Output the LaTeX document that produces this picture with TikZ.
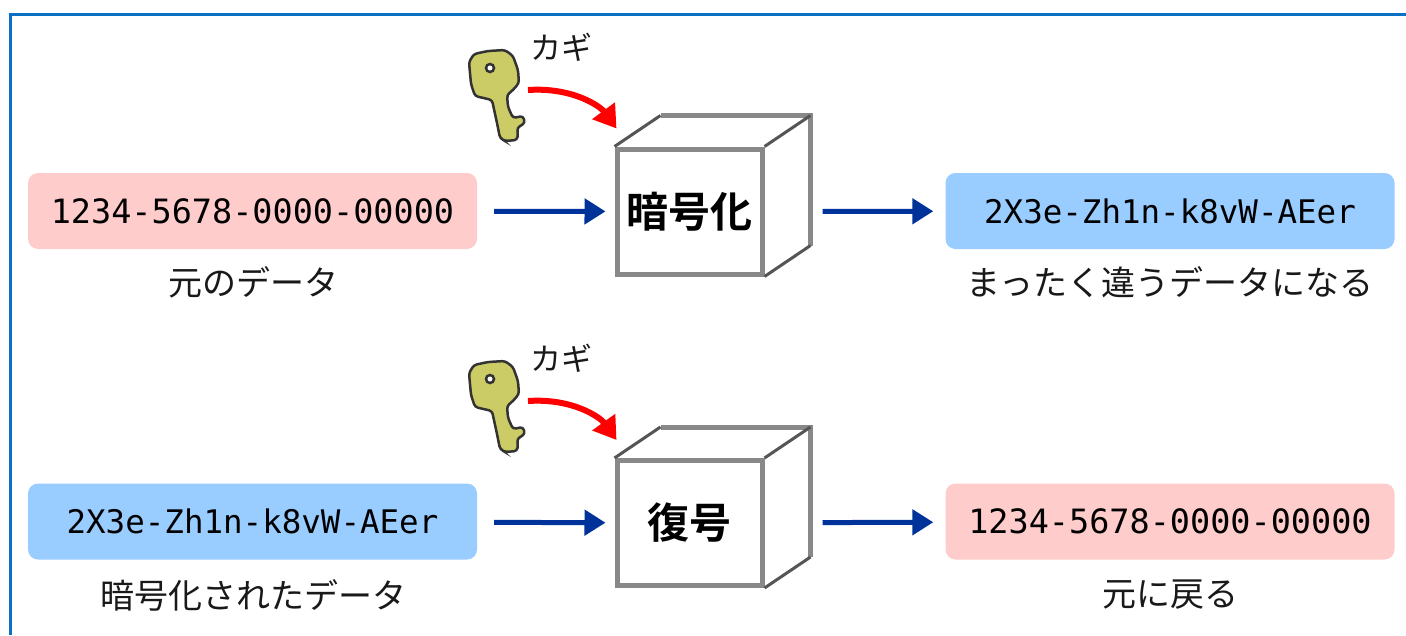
\documentclass[tikz,border=0pt]{standalone}
\usepackage{fontspec}
\setmainfont{Noto Sans CJK JP}
\newfontfamily\jpfont{Noto Sans CJK JP}
\newfontfamily\jpbold{Noto Sans CJK JP Bold}
\newfontfamily\monofont{DejaVu Sans Mono}
\usetikzlibrary{arrows.meta}
\definecolor{pinkc}{HTML}{FFCCCC}
\definecolor{bluec}{HTML}{99CCFF}
\definecolor{bordc}{HTML}{0A70C4}
\definecolor{flowc}{HTML}{003399}
\definecolor{cubec}{HTML}{888888}
\definecolor{cubed}{HTML}{555555}
\definecolor{keyc}{HTML}{CCCC66}
\definecolor{keyo}{HTML}{333333}
\tikzset{
  databox/.style={rounded corners=10pt, minimum width=449pt, minimum height=76pt, inner sep=0pt, text=black},
  pinkbox/.style={databox, fill=pinkc, font=\monofont\fontsize{33.5}{40}\selectfont},
  bluebox/.style={databox, fill=bluec, font=\monofont\fontsize{32.5}{40}\selectfont},
  lbl/.style={font=\jpfont\fontsize{34}{40}\selectfont, text=black!90, inner sep=0pt},
  keylbl/.style={font=\jpfont\fontsize{31}{36}\selectfont, text=black!90, inner sep=0pt},
  front/.style={draw=cubec, line width=5pt, minimum width=145pt, minimum height=125pt, inner sep=0pt, font=\jpbold\fontsize{42}{48}\selectfont},
  backedge/.style={draw=cubec, line width=5pt},
  diag/.style={draw=cubed, line width=3pt},
  flow/.style={draw=flowc, line width=5pt, -{Triangle[length=21pt,width=25pt]}},
  keyarrow/.style={draw=red, line width=6pt, -{Triangle[length=22pt,width=27pt]}},
  keypic/.pic={
    \filldraw[fill=keyc, draw=keyo, line width=2.5pt, rounded corners=3pt]
      (469,62) -- (474,54) -- (488,51) -- (505,50) -- (513,56) -- (518,70) -- (519,83)
      -- (513,90) -- (507,95) -- (508,107) -- (513,118) -- (523,116) -- (525,123)
      -- (517,128) -- (518,134) -- (517,140) -- (505,141) -- (500,138) -- (497,123)
      -- (492,100) -- (475,96) -- (471,84) -- cycle;
    \filldraw[fill=white, draw=keyo, line width=2.5pt] (490,68) circle (4pt);
  }
}
\begin{document}
\begin{tikzpicture}[x=1pt,y=-1pt]
\useasboundingbox (0,0) rectangle (1406,635);
\fill[white] (0,0) rectangle (1406,635);
% border
\draw[bordc, line width=3.5pt] (1406,14.5) -- (10.5,14.5) -- (10.5,635);

% ===== row 1 =====
\node[pinkbox] (src1) at (252.5,211) {1234-5678-0000-00000};
\node[bluebox] (out1) at (1170,211) {2X3e-Zh1n-k8vW-AEer};
\node[lbl] (l1) at (253,282) {元のデータ};
\node[lbl] (l2) at (1170,282) {まったく違うデータになる};
\node[front] (enc) at (689.5,211.5) {暗号化};
\draw[backedge] ([shift={(46,-31)}]enc.north west) -- ([shift={(46,-31)}]enc.north east) -- ([shift={(46,-31)}]enc.south east);
\draw[diag] (enc.north west) -- ++(46,-31);
\draw[diag] (enc.north east) -- ++(46,-31);
\draw[diag] (enc.south east) -- ++(46,-31);
\draw[flow, shorten <=17pt, shorten >=9pt] (src1) -- (enc);
\draw[flow, shorten <=58pt, shorten >=12pt] (enc) -- (out1);
\pic (key1) at (0,0) {keypic};
\node[keylbl] (k1) at (561,47) {カギ};
\coordinate (ka1) at (528,90);
\draw[keyarrow] (ka1) .. controls (572,87) and (600,106) .. ([shift={(2,-18)}]enc.north west);

% ===== row 2 =====
\node[bluebox] (src2) at (252.5,521.5) {2X3e-Zh1n-k8vW-AEer};
\node[pinkbox] (out2) at (1170,521.5) {1234-5678-0000-00000};
\node[lbl] (l3) at (253,595) {暗号化されたデータ};
\node[lbl] (l4) at (1170,595) {元に戻る};
\node[front] (dec) at (689.5,523) {復号};
\draw[backedge] ([shift={(46,-31)}]dec.north west) -- ([shift={(46,-31)}]dec.north east) -- ([shift={(46,-31)}]dec.south east);
\draw[diag] (dec.north west) -- ++(46,-31);
\draw[diag] (dec.north east) -- ++(46,-31);
\draw[diag] (dec.south east) -- ++(46,-31);
\draw[flow, shorten <=17pt, shorten >=9pt] (src2) -- (dec);
\draw[flow, shorten <=58pt, shorten >=12pt] (dec) -- (out2);
\pic (key2) at (0,311) {keypic};
\node[keylbl] (k2) at (561,358) {カギ};
\coordinate (ka2) at (528,401);
\draw[keyarrow] (ka2) .. controls (572,398) and (600,417) .. ([shift={(2,-18)}]dec.north west);
\end{tikzpicture}
\end{document}
